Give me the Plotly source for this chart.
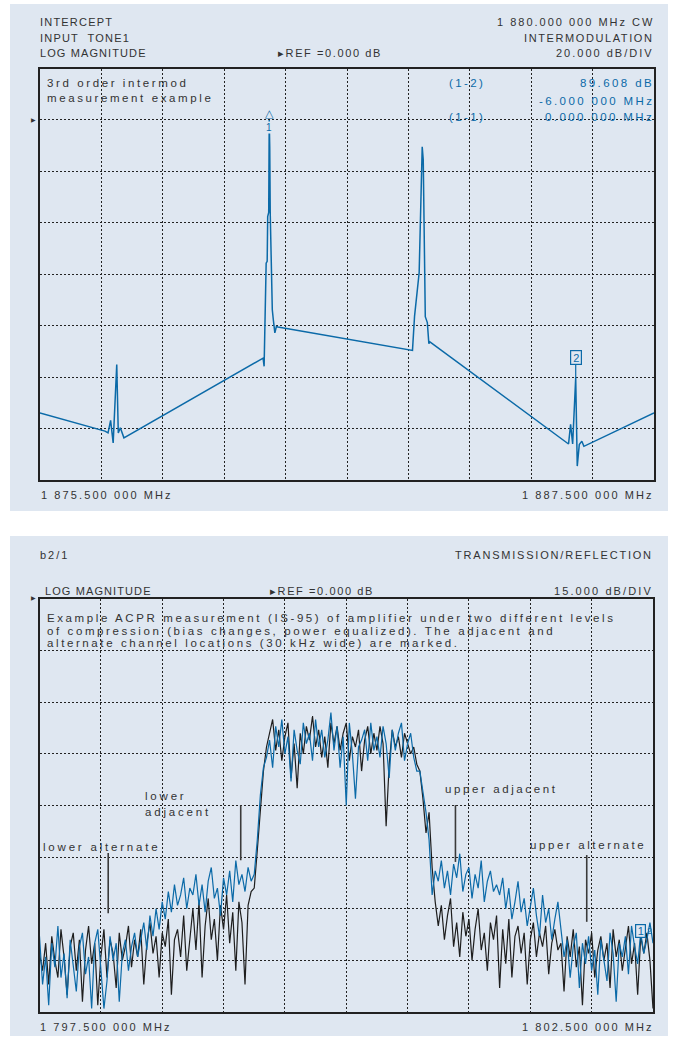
import plotly.graph_objects as go

W, H = 682, 1038
PANEL_BG = "#dfe7f1"
INK = "#333333"
GRID = "#222222"
TRACE_BLUE = "#0b6aa8"
TRACE_BLACK = "#1e1e1e"
FONT = "Liberation Sans, Arial, Helvetica, sans-serif"

# ---------------- top chart: 3rd order intermod (frequency in MHz, level in dB)
im_freq_mhz = [
    1875.50, 1876.77, 1876.83, 1876.88, 1876.93, 1877.00, 1877.03, 1877.07, 1877.14,
    1879.86, 1879.88, 1879.89, 1879.91, 1879.92, 1879.94, 1879.95, 1879.97, 1879.98,
    1879.99, 1880.00, 1880.02, 1880.04, 1880.06, 1880.09, 1880.12, 1880.15,
    1882.78, 1882.82, 1882.91, 1882.97, 1882.99, 1883.01, 1883.03, 1883.07, 1883.10, 1883.12,
    1885.83, 1885.87, 1885.91, 1885.97, 1886.00, 1886.04, 1886.09, 1886.13, 1887.50,
]
im_level_db = [
    -113.9, -121.0, -121.7, -116.8, -125.6, -95.1, -121.7, -119.7, -123.6,
    -92.6, -95.8, -85.4, -73.8, -55.7, -55.0, -37.6, -36.0, 0.0,
    -10.4, -36.5, -55.7, -73.8, -77.7, -82.8, -80.3, -80.5,
    -89.6, -76.4, -59.4, -10.4, -15.5, -59.4, -76.5, -78.8, -87.0, -86.3,
    -126.0, -118.4, -126.0, -100.3, -134.6, -126.2, -124.9, -126.9, -113.9,
]
im_marker1 = (1879.98, 0.0)
im_marker2 = (1885.97, -100.3)

# ---------------- bottom chart: ACPR, 201-point sweep
acpr_start_mhz = 1797.5
acpr_stop_mhz = 1802.5
acpr_black_db = [
    -103, -108, -100, -112, -98, -105, -110, -96, -104, -115,
    -101, -97, -108, -99, -117, -102, -95, -106, -100, -118,
    -104, -96, -110, -99, -103, -113, -97, -105, -101, -95,
    -107, -99, -104, -96, -112, -100, -94, -103, -98, -110,
    -97, -101, -93, -115, -99, -96, -104, -92, -108, -98,
    -90, -102, -88, -110, -95, -87, -99, -93, -105, -89,
    -96, -86, -100, -91, -108, -88, -94, -112, -89, -85,
    -84, -73, -60, -50, -43, -39, -35, -44, -38, -47,
    -40, -36, -52, -42, -55, -39, -45, -37, -41, -34,
    -43, -38, -46, -40, -49, -36, -42, -37, -44, -39,
    -36, -47, -40, -43, -38, -50, -41, -37, -45, -39,
    -44, -37, -42, -66, -48, -38, -43, -40, -46, -39,
    -42, -45, -43, -48, -50, -58, -68, -62, -78, -88,
    -95, -89, -99, -92, -87, -101, -94, -104, -91, -98,
    -93, -105, -96, -90, -102, -97, -108, -94, -99, -92,
    -113, -96, -106, -93, -110, -98, -95, -103, -97, -112,
    -99, -94, -104, -97, -101, -95, -109, -100, -96, -102,
    -100, -114, -98, -104, -96, -107, -101, -118, -99, -103,
    -97, -110, -102, -98, -105, -100, -113, -96, -104, -99,
    -108, -101, -95, -106, -100, -115, -98, -103, -97, -105, -119,
]
acpr_blue_db = [
    -98, -112, -104, -118, -100, -107, -95, -110, -103, -116,
    -99, -106, -114, -101, -97, -109, -104, -119, -100, -96,
    -107, -119, -111, -98, -105, -100, -117, -103, -99, -108,
    -101, -97, -104, -99, -94, -102, -92, -98, -90, -96,
    -88, -93, -85, -91, -83, -89, -86, -81, -90, -84,
    -86, -80, -89, -83, -91, -82, -78, -87, -84, -92,
    -81, -86, -79, -88, -76, -83, -80, -85, -78, -82,
    -80, -70, -57, -49, -46, -41, -49, -37, -43, -35,
    -45, -40, -53, -38, -44, -48, -36, -42, -39, -47,
    -35, -43, -38, -46, -41, -33, -44, -37, -49, -40,
    -60, -36, -45, -58, -43, -41, -38, -47, -36, -44,
    -40, -46, -37, -42, -52, -38, -44, -39, -36, -47,
    -42, -39, -46, -50, -50, -56, -62, -70, -86, -79,
    -82, -76, -84, -79, -86, -77, -81, -74, -85, -80,
    -78, -87, -80, -84, -76, -88, -82, -79, -85, -83,
    -86, -81, -90, -84, -93, -88, -82, -91, -87, -95,
    -89, -84, -92, -98, -86, -94, -90, -99, -93, -88,
    -96, -104, -99, -110, -101, -97, -113, -100, -106, -98,
    -108, -102, -115, -99, -105, -111, -97, -103, -117, -100,
    -104, -98, -109, -95, -101, -106, -97, -103, -99, -94, -100,
]
channel_marker_mhz = [1798.06, 1799.14, 1800.89, 1801.96]
channel_marker_top_db = [-73.8, -59.9, -59.9, -74.4]
channel_marker_bottom_db = [-91.3, -75.9, -76.4, -93.8]
acpr_marker1 = (1802.40, -96.5)

n_pts = len(acpr_black_db)
acpr_freq_mhz = [acpr_start_mhz + (acpr_stop_mhz - acpr_start_mhz) * i / (n_pts - 1) for i in range(n_pts)]


def px(x):
    return x / W


def py(y):
    return 1 - y / H


def spaced(s, ls):
    return f'<span style="letter-spacing:{ls}px">{s}</span>'


annotations = []


def label(s, x, y, anchor="left", size=11, ls=1.8, color=INK):
    xx = x + (ls if anchor == "right" else 0)
    annotations.append(dict(
        text=spaced(s, ls), x=px(xx), y=py(y), xref="paper", yref="paper",
        xanchor=anchor, yanchor="middle", showarrow=False, borderpad=0, borderwidth=0,
        font=dict(family=FONT, size=size, color=color)))


fig = go.Figure()

# top trace
fig.add_trace(go.Scatter(x=im_freq_mhz, y=im_level_db, mode="lines",
                         line=dict(color=TRACE_BLUE, width=1.5), xaxis="x", yaxis="y",
                         hoverinfo="skip"))

# bottom traces
fig.add_trace(go.Scatter(x=acpr_freq_mhz, y=acpr_black_db, mode="lines",
                         line=dict(color=TRACE_BLACK, width=1.2), xaxis="x2", yaxis="y2"))
fig.add_trace(go.Scatter(x=acpr_freq_mhz, y=acpr_blue_db, mode="lines",
                         line=dict(color=TRACE_BLUE, width=1.2), xaxis="x2", yaxis="y2"))

mx, my = [], []
for f, t, b in zip(channel_marker_mhz, channel_marker_top_db, channel_marker_bottom_db):
    mx += [f, f, None]
    my += [t, b, None]
fig.add_trace(go.Scatter(x=mx, y=my, mode="lines", line=dict(color="#3a3a3a", width=1.6),
                         xaxis="x2", yaxis="y2"))

axis_common = dict(showgrid=True, gridcolor=GRID, griddash="2px,2px", gridwidth=1,
                   showticklabels=False, ticks="", showline=True, linecolor=GRID,
                   linewidth=1.5, mirror=True, zeroline=False, fixedrange=True)

layout = dict(
    width=W, height=H, margin=dict(l=0, r=0, t=0, b=0),
    paper_bgcolor="white", plot_bgcolor=PANEL_BG, showlegend=False,
    font=dict(family=FONT, color=INK),
    xaxis=dict(domain=[px(40), px(654)], range=[1875.5, 1887.5], tick0=1875.5, dtick=1.2,
               anchor="y", **axis_common),
    yaxis=dict(domain=[py(480), py(68.5)], range=[-140, 20], tick0=0, dtick=20,
               anchor="x", **axis_common),
    xaxis2=dict(domain=[px(39.5), px(653)], range=[acpr_start_mhz, acpr_stop_mhz],
                tick0=acpr_start_mhz, dtick=0.5, anchor="y2", **axis_common),
    yaxis2=dict(domain=[py(1012), py(599)], range=[-120, 0], tick0=0, dtick=15,
                anchor="x2", **axis_common),
    shapes=[
        dict(type="rect", xref="paper", yref="paper", x0=px(10), x1=px(668), y0=py(511), y1=py(4),
             fillcolor=PANEL_BG, line=dict(width=0), layer="below"),
        dict(type="rect", xref="paper", yref="paper", x0=px(10), x1=px(668), y0=py(1036), y1=py(536),
             fillcolor=PANEL_BG, line=dict(width=0), layer="below"),
    ],
)

# ---- top header
label("INTERCEPT", 40, 22, ls=1.2)
label("INPUT\u00a0\u00a0TONE1", 40, 38, ls=1.2)
label("LOG MAGNITUDE", 40, 53.5, ls=1.1)
label("\u25b8REF =0.000 dB", 278, 53.5, ls=1.6)
label("1 880.000 000 MHz CW", 652, 22, anchor="right", ls=2.0)
label("INTERMODULATION", 652, 38, anchor="right", ls=1.6)
label("20.000 dB/DIV", 652, 53.5, anchor="right", ls=2.0)
label("1 875.500 000 MHz", 41, 495, ls=2.1)
label("1 887.500 000 MHz", 652, 495, anchor="right", ls=2.1)

# ---- top in-plot text
label("3rd order intermod", 47, 83, size=11.5, ls=2.6)
label("measurement example", 47, 98, size=11.5, ls=2.6)
label("(1-2)", 449, 83, size=11.5, ls=2.4, color=TRACE_BLUE)
label("89.608 dB", 652, 83, anchor="right", size=11.5, ls=2.4, color=TRACE_BLUE)
label("-6.000 000 MHz", 652, 101, anchor="right", size=11.5, ls=2.4, color=TRACE_BLUE)
label("(1-1)", 449, 117.5, size=11.5, ls=2.4, color=TRACE_BLUE)
label("0.000 000 MHz", 652, 117.5, anchor="right", size=11.5, ls=2.4, color=TRACE_BLUE)

# ---- bottom header
label("b2/1", 40, 555, ls=2.0)
label("TRANSMISSION/REFLECTION", 651, 555, anchor="right", ls=1.8)
label("LOG MAGNITUDE", 45, 591, ls=1.1)
label("\u25b8REF =0.000 dB", 270, 591, ls=1.6)
label("15.000 dB/DIV", 651, 591, anchor="right", ls=2.1)
label("1 797.500 000 MHz", 40, 1026.5, ls=2.1)
label("1 802.500 000 MHz", 652, 1026.5, anchor="right", ls=2.1)

# ---- bottom in-plot text
label("Example ACPR measurement (IS-95) of amplifier under two different levels", 47, 618, size=11.5, ls=2.6)
label("of compression (bias changes, power equalized). The adjacent and", 47, 630.5, size=11.5, ls=2.6)
label("alternate channel locations (30 kHz wide) are marked.", 47, 643, size=11.5, ls=2.6)
label("lower", 145, 796, size=11.5, ls=2.8)
label("adjacent", 145, 811.5, size=11.5, ls=2.8)
label("lower alternate", 43, 847, size=11.5, ls=2.8)
label("upper adjacent", 445, 788.5, size=11.5, ls=2.6)
label("upper alternate", 530, 845, size=11.5, ls=2.6)

# ---- reference-level arrows
annotations.append(dict(text="\u25b6", xref="paper", yref="y", x=px(37), y=0, xanchor="right",
                        yanchor="middle", showarrow=False, borderpad=0,
                        font=dict(family="DejaVu Sans", size=6, color=INK)))
annotations.append(dict(text="\u25b6", xref="paper", yref="y2", x=px(37), y=0, xanchor="right",
                        yanchor="middle", showarrow=False, borderpad=0, yshift=2,
                        font=dict(family="DejaVu Sans", size=6, color=INK)))

# ---- markers
annotations.append(dict(text="\u25b3", xref="x", yref="y", x=im_marker1[0], y=im_marker1[1],
                        xanchor="center", yanchor="bottom", showarrow=False, borderpad=0, yshift=-1,
                        font=dict(family="DejaVu Sans", size=11, color=TRACE_BLUE)))
annotations.append(dict(text="1", xref="x", yref="y", x=im_marker1[0], y=im_marker1[1],
                        xanchor="center", yanchor="top", showarrow=False, borderpad=0, yshift=-1,
                        bgcolor=PANEL_BG, font=dict(family=FONT, size=10, color=TRACE_BLUE)))
annotations.append(dict(text="2", xref="x", yref="y", x=im_marker2[0], y=im_marker2[1],
                        showarrow=True, arrowhead=0, arrowwidth=1.2, arrowcolor=TRACE_BLUE,
                        ax=0, ay=-20, width=10, height=13, borderpad=0,
                        bordercolor=TRACE_BLUE, borderwidth=1.2, bgcolor=PANEL_BG,
                        font=dict(family=FONT, size=11, color=TRACE_BLUE)))
annotations.append(dict(text="1", xref="x2", yref="y2", x=acpr_marker1[0], y=acpr_marker1[1],
                        showarrow=False, width=9, height=12, borderpad=0,
                        bordercolor=TRACE_BLUE, borderwidth=1.2, bgcolor=PANEL_BG,
                        font=dict(family=FONT, size=11, color=TRACE_BLUE)))
annotations.append(dict(text="2", xref="x2", yref="y2", x=acpr_marker1[0], y=acpr_marker1[1],
                        showarrow=False, xshift=9, borderpad=0,
                        font=dict(family=FONT, size=9, color=TRACE_BLUE)))

layout["annotations"] = annotations
fig.update_layout(**layout)
fig.write_html("out.html", config={"displayModeBar": False},
               post_script="document.body.style.margin='0';document.body.style.overflow='hidden';")
